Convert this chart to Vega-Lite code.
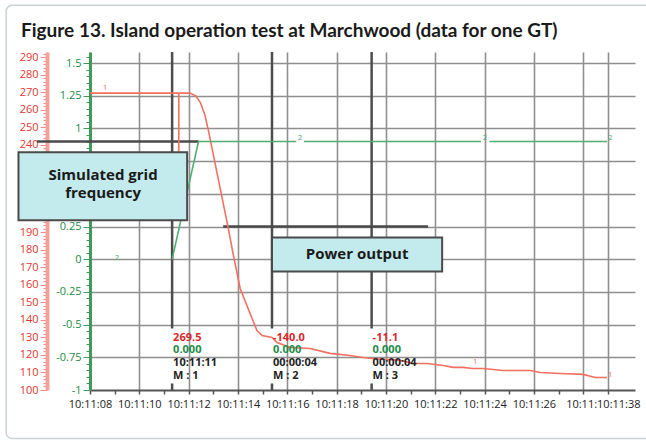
{
  "$schema": "https://vega.github.io/schema/vega-lite/v6.json",
  "width": 545,
  "height": 338,
  "autosize": {"type": "none"},
  "padding": {"left": 90, "top": 52, "right": 11, "bottom": 51},
  "background": "white",
  "title": {
    "text": "Figure 13. Island operation test at Marchwood (data for one GT)",
    "anchor": "start",
    "frame": "group",
    "dx": -69,
    "font": "Lato",
    "fontSize": 19,
    "fontWeight": "bold",
    "color": "#1a1a1a",
    "baseline": "alphabetic",
    "offset": -52
  },
  "config": {"view": {"stroke": null}},
  "resolve": {"scale": {"y": "independent"}},
  "datasets": {
    "red": [
      {"i": 1, "s": 8, "r": 269.5},
      {"i": 2, "s": 11.33, "r": 269.5},
      {"i": 3, "s": 11.6, "r": 269.5},
      {"i": 4, "s": 11.6, "r": 215},
      {"i": 5, "s": 11.6, "r": 269.5},
      {"i": 6, "s": 12.06, "r": 269.5},
      {"i": 7, "s": 12.3, "r": 267.8},
      {"i": 8, "s": 12.48, "r": 264},
      {"i": 9, "s": 12.66, "r": 257},
      {"i": 10, "s": 12.82, "r": 247},
      {"i": 11, "s": 12.99, "r": 235.1},
      {"i": 12, "s": 13.27, "r": 215.7},
      {"i": 13, "s": 13.56, "r": 195.7},
      {"i": 14, "s": 13.8, "r": 178},
      {"i": 15, "s": 14.09, "r": 158},
      {"i": 16, "s": 14.49, "r": 143.7},
      {"i": 17, "s": 14.77, "r": 134},
      {"i": 18, "s": 14.98, "r": 131.1},
      {"i": 19, "s": 15.38, "r": 130},
      {"i": 20, "s": 15.59, "r": 127.1},
      {"i": 21, "s": 16.11, "r": 124.3},
      {"i": 22, "s": 16.92, "r": 123.7},
      {"i": 23, "s": 17.74, "r": 120.9},
      {"i": 24, "s": 18.55, "r": 119.7},
      {"i": 25, "s": 19.08, "r": 118.6},
      {"i": 26, "s": 19.44, "r": 118},
      {"i": 27, "s": 20.58, "r": 116.9},
      {"i": 28, "s": 21.1, "r": 115.1},
      {"i": 29, "s": 21.67, "r": 115.1},
      {"i": 30, "s": 22.32, "r": 114},
      {"i": 31, "s": 22.73, "r": 112.9},
      {"i": 32, "s": 23.13, "r": 112.9},
      {"i": 33, "s": 23.5, "r": 112.3},
      {"i": 34, "s": 23.94, "r": 112.3},
      {"i": 35, "s": 24.75, "r": 111.1},
      {"i": 36, "s": 25.85, "r": 111.1},
      {"i": 37, "s": 26.26, "r": 110},
      {"i": 38, "s": 27.07, "r": 109.4},
      {"i": 39, "s": 28.0, "r": 108.9},
      {"i": 40, "s": 28.49, "r": 107.1},
      {"i": 41, "s": 28.97, "r": 107.1}
    ],
    "green": [
      {"seg": "a", "s": 11.33, "g": 0},
      {"seg": "a", "s": 12.4, "g": 0.9},
      {"seg": "a", "s": 16.35, "g": 0.9},
      {"seg": "b", "s": 16.68, "g": 0.9},
      {"seg": "b", "s": 23.85, "g": 0.9},
      {"seg": "c", "s": 24.2, "g": 0.9},
      {"seg": "c", "s": 28.97, "g": 0.9}
    ],
    "cursors": [
      {"s": 11.33, "g": -0.53, "g2": 1.585},
      {"s": 15.38, "g": -0.53, "g2": 1.585},
      {"s": 19.42, "g": -0.53, "g2": 1.585},
      {"s": 11.33, "g": -1, "g2": -0.95},
      {"s": 15.38, "g": -1, "g2": -0.95},
      {"s": 19.42, "g": -1, "g2": -0.95}
    ],
    "pointers": [
      {"s": 5.85, "s2": 12.4, "g": 0.9},
      {"s": 13.4, "s2": 21.71, "g": 0.25}
    ],
    "redMarks": [
      {"s": 8.61, "r": 272.4, "t": "1"},
      {"s": 23.62, "r": 115.8, "t": "1"},
      {"s": 29.1, "r": 108.6, "t": "1"}
    ],
    "greenMarks": [
      {"s": 9.1, "g": 0.01, "t": "2"},
      {"s": 16.52, "g": 0.93, "t": "2"},
      {"s": 24.02, "g": 0.93, "t": "2"},
      {"s": 29.1, "g": 0.93, "t": "2"}
    ],
    "boxes": [
      {"s": 5.1, "s2": 11.94, "r": 235.7, "r2": 196.9},
      {"s": 15.38, "s2": 22.28, "r": 187.1, "r2": 167.7}
    ],
    "boxLabels": [
      {"s": 8.53, "r": 222.8, "label": "Simulated grid\nfrequency"},
      {"s": 18.83, "r": 177.4, "label": "Power output"}
    ],
    "frame": [
      {"s": 4.6, "s2": 31.5, "r": 319.7, "r2": 72.3}
    ],
    "readouts": [
      {"s": 11.33, "r": 129.7, "kind": "v", "t": "269.5"},
      {"s": 11.33, "r": 122.8, "kind": "f", "t": "0.000"},
      {"s": 11.33, "r": 115.4, "kind": "t", "t": "10:11:11"},
      {"s": 11.33, "r": 108.0, "kind": "m", "t": "M : 1"},
      {"s": 15.38, "r": 129.7, "kind": "v", "t": "-140.0"},
      {"s": 15.38, "r": 122.8, "kind": "f", "t": "0.000"},
      {"s": 15.38, "r": 115.4, "kind": "t", "t": "00:00:04"},
      {"s": 15.38, "r": 108.0, "kind": "m", "t": "M : 2"},
      {"s": 19.42, "r": 129.7, "kind": "v", "t": "-11.1"},
      {"s": 19.42, "r": 122.8, "kind": "f", "t": "0.000"},
      {"s": 19.42, "r": 115.4, "kind": "t", "t": "00:00:04"},
      {"s": 19.42, "r": 108.0, "kind": "m", "t": "M : 3"}
    ]
  },
  "encoding": {
    "x": {
      "field": "s", "type": "quantitative",
      "scale": {"domain": [8, 30.1], "nice": false, "zero": false},
      "axis": {
        "title": null,
        "values": [8, 9, 10, 11, 12, 13, 14, 15, 16, 17, 18, 19, 20, 21, 22, 23, 24, 25, 26, 27, 28, 29],
        "labelExpr": "datum.value == 29 ? '10:11:10:11:38' : ((datum.value % 2 == 0 && datum.value < 28) ? '10:11:' + (datum.value < 10 ? '0' : '') + datum.value : '')",
        "labelOffset": {"condition": {"test": "datum.value == 29", "value": -5}, "value": 0},
        "labelOverlap": false,
        "labelFlush": false,
        "labelFont": "Open Sans",
        "labelFontSize": 11,
        "labelColor": "#222222",
        "labelPadding": 4,
        "tickSize": 4,
        "tickColor": "#555555",
        "tickWidth": 1.5,
        "domainColor": "#555555",
        "domainWidth": 2,
        "grid": true,
        "gridColor": "#8f8f8f",
        "gridWidth": 1.6,
        "gridOpacity": {"condition": {"test": "datum.value % 2 == 0 || datum.value == 29", "value": 1}, "value": 0}
      }
    }
  },
  "layer": [
    {
      "data": {"name": "frame"},
      "mark": {"type": "rect", "fill": null, "stroke": "#c9d2d6", "strokeWidth": 1.5, "cornerRadius": 6},
      "encoding": {
        "x2": {"field": "s2"},
        "y": {"field": "r", "type": "quantitative", "scale": {"domain": [100, 293], "nice": false, "zero": false}, "axis": null},
        "y2": {"field": "r2"}
      }
    },
    {
      "data": {"name": "cursors"},
      "mark": {"type": "rule", "color": "#4d4d4d", "strokeWidth": 2.5},
      "encoding": {
        "y": {"field": "g", "type": "quantitative", "scale": {"domain": [-1, 1.585], "nice": false, "zero": false}, "axis": null},
        "y2": {"field": "g2"}
      }
    },
    {
      "data": {"name": "pointers"},
      "mark": {"type": "rule", "color": "#4a4a4a", "strokeWidth": 2.5},
      "encoding": {
        "x2": {"field": "s2"},
        "y": {"field": "g", "type": "quantitative", "scale": {"domain": [-1, 1.585], "nice": false, "zero": false}, "axis": null}
      }
    },
    {
      "data": {"name": "red"},
      "mark": {"type": "line", "color": "#f2705f", "strokeWidth": 1.6},
      "encoding": {
        "y": {
          "field": "r", "type": "quantitative",
          "scale": {"domain": [100, 293], "nice": false, "zero": false},
          "axis": {
            "title": null,
            "orient": "left",
            "offset": 43,
            "tickCount": 96,
            "grid": false,
            "labelExpr": "datum.value % 10 == 0 ? '' + datum.value : ''",
            "labelFont": "Open Sans",
            "labelFontSize": 11,
            "labelColor": "#e0362e",
            "labelPadding": 2,
            "labelOverlap": false,
            "labelFlush": false,
            "tickSize": {"condition": {"test": "datum.value % 10 == 0", "value": 7}, "value": 4},
            "tickColor": "#f08a84",
            "tickWidth": 1,
            "domainColor": "#f3a19b",
            "domainWidth": 4
          }
        },
        "order": {"field": "i", "type": "quantitative"}
      }
    },
    {
      "data": {"name": "green"},
      "mark": {"type": "line", "color": "#52ad72", "strokeWidth": 1.6},
      "encoding": {
        "y": {
          "field": "g", "type": "quantitative",
          "scale": {"domain": [-1, 1.585], "nice": false, "zero": false},
          "axis": {
            "title": null,
            "orient": "left",
            "offset": 0,
            "tickCount": 51,
            "labelExpr": "abs(datum.value * 4 - round(datum.value * 4)) < 0.001 ? '' + round(datum.value * 100) / 100 : ''",
            "labelFont": "Open Sans",
            "labelFontSize": 11,
            "labelColor": "#1e8a47",
            "labelPadding": 2,
            "labelOverlap": false,
            "labelFlush": false,
            "tickSize": {"condition": {"test": "abs(datum.value * 4 - round(datum.value * 4)) < 0.001", "value": 7}, "value": 4},
            "tickColor": "#3d9b57",
            "tickWidth": 1,
            "domainColor": "#3f9c58",
            "domainWidth": 3,
            "grid": true,
            "gridColor": "#8f8f8f",
            "gridWidth": 1.6,
            "gridOpacity": {"condition": {"test": "abs(datum.value * 4 - round(datum.value * 4)) < 0.001 && datum.value > -0.99", "value": 1}, "value": 0}
          }
        },
        "detail": {"field": "seg", "type": "nominal"}
      }
    },
    {
      "data": {"name": "redMarks"},
      "mark": {"type": "text", "color": "#f2705f", "font": "Open Sans", "fontSize": 8, "baseline": "middle"},
      "encoding": {
        "y": {"field": "r", "type": "quantitative", "scale": {"domain": [100, 293], "nice": false, "zero": false}, "axis": null},
        "text": {"field": "t"}
      }
    },
    {
      "data": {"name": "greenMarks"},
      "mark": {"type": "text", "color": "#52ad72", "font": "Open Sans", "fontSize": 8, "baseline": "middle"},
      "encoding": {
        "y": {"field": "g", "type": "quantitative", "scale": {"domain": [-1, 1.585], "nice": false, "zero": false}, "axis": null},
        "text": {"field": "t"}
      }
    },
    {
      "data": {"name": "boxes"},
      "mark": {"type": "rect", "fill": "#c3eaec", "stroke": "#4a4a4a", "strokeWidth": 2},
      "encoding": {
        "x2": {"field": "s2"},
        "y": {"field": "r", "type": "quantitative", "scale": {"domain": [100, 293], "nice": false, "zero": false}, "axis": null},
        "y2": {"field": "r2"}
      }
    },
    {
      "data": {"name": "boxLabels"},
      "mark": {"type": "text", "font": "Open Sans", "fontSize": 15, "fontWeight": "bold", "color": "#1a1a1a", "lineBreak": "\n", "lineHeight": 18, "align": "center", "baseline": "middle"},
      "encoding": {
        "y": {"field": "r", "type": "quantitative", "scale": {"domain": [100, 293], "nice": false, "zero": false}, "axis": null},
        "text": {"field": "label"}
      }
    },
    {
      "data": {"name": "readouts"},
      "mark": {"type": "text", "font": "Open Sans", "fontSize": 11, "fontWeight": "bold", "align": "left", "baseline": "middle", "dx": 1},
      "encoding": {
        "y": {"field": "r", "type": "quantitative", "scale": {"domain": [100, 293], "nice": false, "zero": false}, "axis": null},
        "text": {"field": "t"},
        "color": {"field": "kind", "type": "nominal", "scale": {"domain": ["v", "f", "t", "m"], "range": ["#d9272c", "#1f8a48", "#222222", "#222222"]}, "legend": null}
      }
    }
  ]
}
